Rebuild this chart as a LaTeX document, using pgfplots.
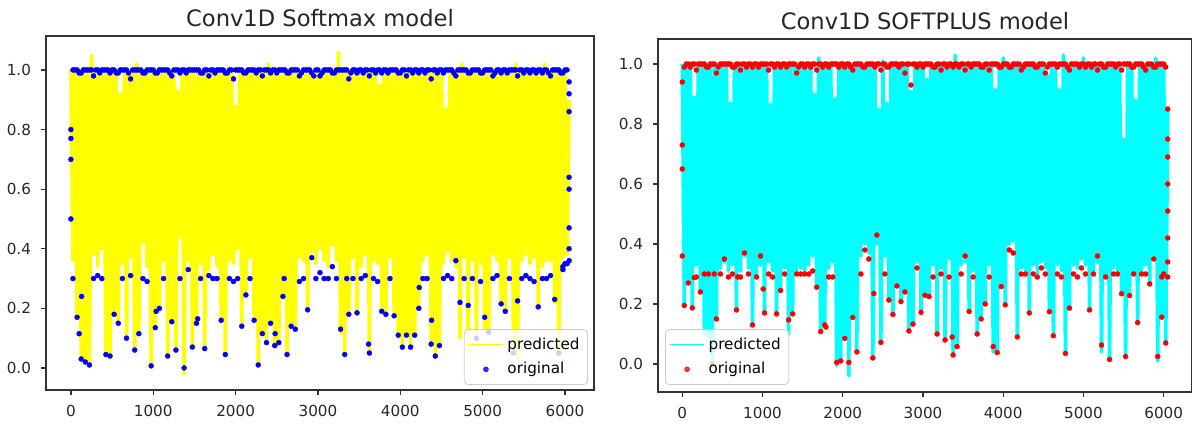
\documentclass[border=0pt]{standalone}
\usepackage{pgfplots}
\usepackage{pgfplotstable}
\pgfplotsset{compat=1.18}
\usepackage{fontspec}
\setmainfont{DejaVu Sans}

\definecolor{myyellow}{RGB}{255,255,0}
\definecolor{myblue}{RGB}{0,0,255}
\definecolor{mycyan}{RGB}{0,255,255}
\definecolor{myred}{RGB}{255,0,0}

% left panel: predicted (p) and original (o), one row every 25 samples
\pgfplotstableread[row sep=\\]{p o\\
1 .5\\ .36 .3\\ 1 1\\ .17 .17\\ 1 .99\\ .03 .03\\ 1 1\\ .02 .02\\ 1 1\\ .01 .01\\
1.05 1\\ .38 .3\\ 1 1\\ .34 .31\\ 1 .99\\ .4 .3\\ 1 1\\ .045 .045\\ 1 1\\ .04 .04\\
1 1\\ .18 .18\\ 1 .99\\ .15 .15\\ .92 1\\ .35 .3\\ 1 1\\ .1 .1\\ 1 .99\\ .37 .31\\
1 1\\ .06 .06\\ 1.02 1\\ .115 .115\\ 1 1\\ .42 .3\\ 1 .99\\ .34 .29\\ 1 1\\ 0 .007\\
1 1\\ .135 .135\\ 1 .99\\ .2 .2\\ 1 1\\ .36 .3\\ 1 1\\ .04 .04\\ 1 .99\\ .155 .155\\
1 1\\ .06 .06\\ .93 1\\ .44 .3\\ 1 1\\ -0.02 0\\ 1 .99\\ .36 .33\\ 1 1\\ .07 .07\\
1 1\\ .15 .15\\ 1 1\\ .35 .3\\ 1 .99\\ .065 .065\\ 1 1\\ .33 .31\\ 1 1\\ .38 .3\\
1 .99\\ .34 .3\\ 1 1\\ .16 .16\\ 1 1\\ .045 .045\\ 1 .99\\ .36 .3\\ 1 1\\ .35 .29\\
.88 1\\ .4 .3\\ 1 1\\ .14 .14\\ 1 .99\\ .245 .245\\ 1 1\\ .37 .3\\ 1 1\\ .16 .16\\
1 .99\\ .01 .01\\ 1 1\\ .115 .115\\ 1 1\\ .085 .085\\ 1.02 1\\ .15 .15\\ 1 1\\ .075 .075\\
1 .99\\ .085 .085\\ 1 1\\ .24 .24\\ 1 1\\ .045 .045\\ 1 .99\\ .14 .14\\ 1 1\\ .13 .13\\
1 1\\ .37 .29\\ 1 .99\\ .36 .3\\ 1 1\\ .195 .195\\ 1 1\\ .39 .37\\ .98 .98\\ .35 .3\\
1 1\\ .4 .32\\ 1 .99\\ .36 .3\\ 1 1\\ .34 .3\\ 1 1\\ .41 .34\\ 1 .99\\ .36 .3\\
1.06 1\\ .12 .13\\ 1 1\\ .045 .045\\ 1 1\\ .18 .18\\ 1 .99\\ .37 .3\\ 1 1\\ .185 .185\\
1 1\\ .34 .3\\ 1 .99\\ .38 .31\\ 1 1\\ .05 .05\\ 1 1\\ .36 .3\\ 1 .99\\ .35 .29\\
.95 1\\ .19 .19\\ 1 1\\ .18 .18\\ 1 .99\\ .37 .3\\ 1 1\\ .175 .175\\ 1 1\\ .11 .11\\
1 .99\\ .07 .07\\ 1 1\\ .11 .11\\ 1 1\\ .07 .07\\ 1 .99\\ .11 .11\\ 1 1\\ .2 .2\\
1 1\\ .36 .3\\ 1 .99\\ .38 .3\\ 1 1\\ .08 .08\\ 1 1\\ .04 .04\\ 1 .99\\ .075 .075\\
1 1\\ .35 .3\\ .87 1\\ .39 .31\\ 1 1\\ .36 .3\\ 1 .99\\ .34 .36\\ 1 1\\ .1 .22\\
1.02 1\\ .37 .3\\ 1 1\\ .05 .21\\ 1 .99\\ .36 .3\\ 1 1\\ .1 .1\\ 1 1\\ .35 .29\\
1 .99\\ .12 .17\\ 1 1\\ .12 .12\\ 1 1\\ .38 .3\\ 1 .99\\ .36 .31\\ 1 1\\ .215 .215\\
1 1\\ .19 .19\\ 1 .99\\ .37 .3\\ 1 1\\ .05 .05\\ 1.02 1\\ .03 .225\\ 1 1\\ .36 .3\\
1 .99\\ .38 .31\\ 1 1\\ .35 .3\\ 1 1\\ .37 .29\\ 1 .99\\ .205 .205\\ 1 1\\ .34 .3\\
1.02 1\\ .36 .3\\ 1 .99\\ .36 .31\\ 1 1\\ .22 .23\\ 1 1\\ .05 .05\\ 1 .99\\ .37 .33\\
1 1\\ .38 .35\\ .9 .86\\
}\softmaxdata

% more original points near 1.0, between the rows above
\pgfplotstableread[row sep=\\]{t\\
1\\ 1\\ .99\\ 1\\ 1\\ .98\\ 1\\ 1\\ 1\\ .99\\ 1\\ .99\\ 1\\ 1\\ .97\\ 1\\ 1\\ .99\\ 1\\ 1\\
.99\\ 1\\ 1\\ 1\\ .98\\ 1\\ .99\\ 1\\ 1\\ 1\\ 1\\ .99\\ 1\\ .98\\ 1\\ 1\\ 1\\ .99\\ 1\\ .97\\
1\\ 1\\ .99\\ 1\\ 1\\ 1\\ .98\\ 1\\ .99\\ 1\\ 1\\ 1\\ .99\\ 1\\ 1\\ .98\\ 1\\ 1\\ .99\\ 1\\
.98\\ 1\\ 1\\ .99\\ 1\\ 1\\ 1\\ .97\\ 1\\ .99\\ 1\\ 1\\ .98\\ 1\\ 1\\ .99\\ 1\\ 1\\ 1\\ .99\\
1\\ .98\\ 1\\ 1\\ .99\\ 1\\ 1\\ .97\\ 1\\ 1\\ .99\\ 1\\ 1\\ .98\\ 1\\ 1\\ .99\\ 1\\ 1\\ .99\\
1\\ 1\\ .98\\ 1\\ .99\\ 1\\ 1\\ 1\\ .98\\ 1\\ 1\\ .99\\ 1\\ 1\\ .99\\ 1\\ .98\\ 1\\ 1\\ .99\\ 1\\
}\softmaxtop

% right panel
\pgfplotstableread[row sep=\\]{p o\\
1 .94\\ .19 .195\\ 1 1\\ .27 .27\\ 1 .99\\ .187 .187\\ .89 1\\ .33 .29\\ 1 1\\ .24 .24\\
1 1\\ .1 .3\\ 1 .99\\ .09 .3\\ 1 1\\ -0.01 0\\ 1 1\\ .15 .15\\ 1 .99\\ .32 .3\\
1 1\\ .34 .35\\ 1 1\\ .31 .29\\ .87 1\\ .33 .3\\ 1 .99\\ .18 .18\\ 1 1\\ .31 .29\\
1 1\\ .36 .37\\ 1 .99\\ .32 .3\\ 1 1\\ .13 .13\\ 1 1\\ .29 .29\\ 1 .99\\ .33 .36\\
1 1\\ .17 .17\\ 1 1\\ .34 .3\\ .866 1\\ .31 .29\\ 1 .99\\ .167 .167\\ 1 1\\ .245 .245\\
1 1\\ .32 .3\\ 1 .99\\ .1 .147\\ 1 1\\ .167 .167\\ 1 1\\ .31 .3\\ 1 .99\\ .32 .3\\
1 1\\ .3 .3\\ 1 1\\ .33 .3\\ 1 .99\\ .36 .31\\ .9 1\\ .256 .256\\ 1.02 1\\ .108 .108\\
1 .99\\ .13 .13\\ 1 1\\ .32 .29\\ 1 1\\ .34 .29\\ .885 1\\ -0.005 .005\\ 1 .99\\ .01 .01\\
1 1\\ .085 .085\\ 1 1\\ -0.04 .005\\ 1 .99\\ .155 .155\\ 1 1\\ .04 .04\\ 1 1\\ .36 .3\\
1 .99\\ .4 .38\\ 1 1\\ .37 .35\\ 1 1\\ .02 .02\\ 1 .99\\ .4 .43\\ .85 1\\ .072 .072\\
1.01 1\\ .36 .3\\ .87 .99\\ .213 .213\\ 1 1\\ .165 .165\\ 1 1\\ .26 .26\\ 1 .99\\ .208 .208\\
1 1\\ .24 .24\\ 1 1\\ .11 .11\\ .91 .93\\ .133 .133\\ 1 1\\ .34 .32\\ 1 1\\ .172 .172\\
1 .99\\ .229 .229\\ .95 1\\ .225 .225\\ 1 1\\ .33 .29\\ 1 .99\\ .1 .1\\ 1 1\\ .32 .3\\
1 1\\ .08 .08\\ 1 .99\\ .35 .29\\ 1 1\\ .03 .03\\ 1.03 1\\ .058 .058\\ 1 .99\\ .33 .3\\
1 1\\ .34 .36\\ 1 1\\ .175 .175\\ 1 .99\\ .31 .29\\ 1 1\\ .1 .1\\ 1 1\\ .15 .15\\
1 .99\\ .2 .2\\ 1 1\\ .33 .29\\ 1 1\\ .04 .058\\ .915 1\\ .038 .038\\ 1 .99\\ .258 .258\\
1.02 1\\ .197 .197\\ 1 1\\ .4 .38\\ 1 .99\\ .41 .37\\ 1 1\\ .09 .09\\ 1 1\\ .32 .3\\
1 .99\\ .31 .3\\ 1 1\\ .17 .17\\ 1 1\\ .33 .3\\ 1 .99\\ .3 .29\\ 1 1\\ .34 .32\\
1 1\\ .32 .3\\ .965 .99\\ .174 .174\\ 1 1\\ .094 .094\\ 1 1\\ .33 .3\\ .915 1\\ .31 .29\\
1.03 1\\ .035 .035\\ 1 .99\\ .186 .186\\ 1 1\\ .33 .3\\ 1 1\\ .32 .29\\ 1 .99\\ .35 .32\\
1.02 1\\ .33 .3\\ 1 1\\ .18 .18\\ 1 .99\\ .31 .3\\ 1 1\\ .34 .36\\ 1 1\\ .04 .063\\
1 .99\\ .3 .29\\ 1 1\\ .01 .015\\ 1 1\\ .32 .3\\ 1 .99\\ .31 .3\\ 1 1\\ .234 .234\\
.75 1\\ .02 .025\\ 1 1\\ .228 .228\\ 1 .99\\ .3 .3\\ .88 1\\ .138 .138\\ 1 1\\ .31 .3\\
1 .99\\ .33 .3\\ 1 1\\ .267 .267\\ 1 1\\ .36 .35\\ 1.02 .99\\ .01 .025\\ 1 1\\ .156 .156\\
1 1\\ .07 .07\\ .85 .85\\
}\softplusdata

\pgfplotstableread[row sep=\\]{t\\
.99\\ 1\\ 1\\ .98\\ 1\\ 1\\ .99\\ 1\\ .97\\ 1\\ 1\\ 1\\ .99\\ 1\\ .98\\ 1\\ 1\\ .99\\ 1\\ 1\\
1\\ .98\\ 1\\ 1\\ .99\\ 1\\ 1\\ 1\\ .97\\ 1\\ .99\\ 1\\ 1\\ .98\\ 1\\ 1\\ .99\\ 1\\ 1\\ 1\\
.99\\ 1\\ .98\\ 1\\ 1\\ .99\\ 1\\ 1\\ 1\\ .98\\ 1\\ .99\\ 1\\ 1\\ 1\\ .97\\ 1\\ 1\\ .99\\ 1\\
1\\ 1\\ .99\\ 1\\ .98\\ 1\\ 1\\ .99\\ 1\\ 1\\ .98\\ 1\\ 1\\ 1\\ .99\\ 1\\ .98\\ 1\\ 1\\ .99\\
1\\ .99\\ 1\\ 1\\ .98\\ 1\\ 1\\ 1\\ .99\\ 1\\ .97\\ 1\\ 1\\ .99\\ 1\\ 1\\ .98\\ 1\\ 1\\ 1\\
.99\\ 1\\ 1\\ .98\\ 1\\ .99\\ 1\\ 1\\ 1\\ .98\\ 1\\ 1\\ .99\\ 1\\ 1\\ .98\\ 1\\ .99\\ 1\\ 1\\ .99\\
}\softplustop

\pgfplotsset{
  panel/.style={
    scale only axis,
    tick pos=left,
    tick align=outside,
    major tick length=2.5pt,
    every tick/.style={black!80, line width=0.6pt},
    axis line style={black!80, line width=0.6pt},
    ticklabel style={font=\fontsize{7.6}{9}\selectfont, text=black!85},
    /pgf/number format/assume math mode=true,
    xtick={0,1000,...,6000},
    ytick={0,0.2,0.4,0.6,0.8,1.0},
    xmin=-302.5, xmax=6352.5,
    x tick label style={/pgf/number format/1000 sep={}, yshift=-1.5pt},
    y tick label style={/pgf/number format/.cd, fixed, fixed zerofill, precision=1, /tikz/.cd, xshift=-1.5pt},
    title style={font=\fontsize{11.3}{13}\selectfont, text=black!85, yshift=-5pt},
    legend cell align=left,
    legend style={font=\fontsize{7.6}{9}\selectfont, draw=black!20, rounded corners=2pt,
      fill=white, fill opacity=0.8, draw opacity=1, text opacity=1,
      inner sep=2pt, row sep=1pt},
  },
  dots/.style={only marks, mark=*, mark size=1.25pt, mark options={line width=0.2pt}},
}

\begin{document}
\begin{tikzpicture}
\path[use as bounding box] (0,0) rectangle (596pt,-213pt);

\begin{axis}[panel,
  at={(23pt,-195pt)}, anchor=south west,
  width=274pt, height=177pt,
  ymin=-0.074, ymax=1.114,
  title={Conv1D Softmax model},
  legend style={at={(1,0)}, anchor=south east, xshift=-3pt, yshift=2.5pt},
]
\addplot[myyellow, line width=1.8pt, line join=round,
  legend image code/.code={\draw[myyellow, line width=0.6pt] (0pt,0pt) -- (17pt,0pt);}]
  table[x expr=\coordindex*25, y=p] {\softmaxdata};
\addlegendentry{predicted}
\addplot[myblue, dots] table[x expr=\coordindex*25, y=o] {\softmaxdata};
\addlegendentry{original}
\addplot[myblue, dots, forget plot] table[x expr=\coordindex*50+25, y=t] {\softmaxtop};
\addplot[myblue, dots, forget plot]
  coordinates {(0,.7) (0,.77) (0,.8) (100,.115) (130,.24) (1035,.19) (1540,.165)
  (2480,.115) (2590,.3) (3350,.3) (3615,.08) (4230,.27) (4380,.16) (5975,.34) (6000,.35)
  (6050,.36) (6050,.4) (6050,.47) (6050,.6) (6050,.64) (6050,.92) (6050,.96)};
\end{axis}

\begin{axis}[panel,
  at={(329pt,-196pt)}, anchor=south west,
  width=267pt, height=176.5pt,
  ymin=-0.0935, ymax=1.0835,
  title={Conv1D SOFTPLUS model},
  legend style={at={(0,0)}, anchor=south west, xshift=3.5pt, yshift=3.5pt},
]
\addplot[mycyan, line width=1.8pt, line join=round,
  legend image code/.code={\draw[mycyan, line width=0.6pt] (0pt,0pt) -- (17pt,0pt);}]
  table[x expr=\coordindex*25, y=p] {\softplusdata};
\addlegendentry{predicted}
\addplot[myred, dots] table[x expr=\coordindex*25, y=o] {\softplusdata};
\addlegendentry{original}
\addplot[myred, dots, forget plot] table[x expr=\coordindex*50+25, y=t] {\softplustop};
\addplot[myred, dots, forget plot]
  coordinates {(0,.73) (0,.65) (0,.36) (150,.288) (398,.3) (690,.29) (1008,.25) (1790,.123)
  (2387,.235) (3363,.09) (5975,.29) (6000,.3)
  (6050,.75) (6050,.69) (6050,.6) (6050,.51) (6050,.42) (6050,.34) (6050,.29)};
\end{axis}
\end{tikzpicture}
\end{document}
